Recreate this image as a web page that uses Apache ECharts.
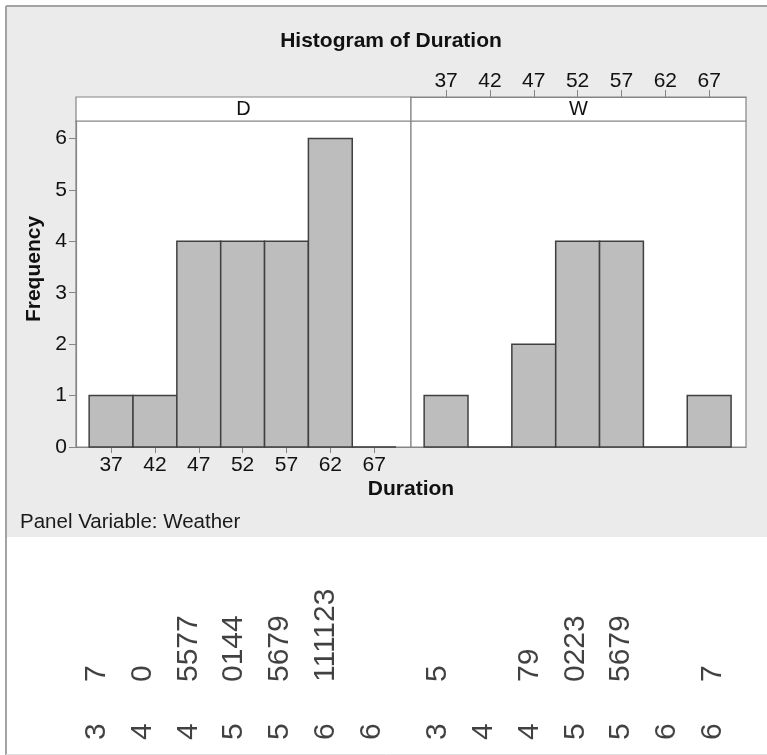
<!DOCTYPE html>
<html>
<head>
<meta charset="utf-8">
<script src="https://cdn.jsdelivr.net/npm/echarts@6/dist/echarts.min.js"></script>
<style>
  html, body { margin: 0; padding: 0; background: #ffffff; }
  #chart { width: 767px; height: 755px; }
</style>
</head>
<body>
<div id="chart"></div>
<script>
// ---- data ----
const binCenters = [37, 42, 47, 52, 57, 62, 67];
const binWidth = 5;
const countsD = [1, 1, 4, 4, 4, 6, 0];
const countsW = [1, 0, 2, 4, 4, 0, 1];
const tickValues = [37, 42, 47, 52, 57, 62, 67];
const freqTicks = [0, 1, 2, 3, 4, 5, 6];
const stemsD = ['3', '4', '4', '5', '5', '6', '6'];
const leavesD = ['7', '0', '5577', '0144', '5679', '111123', ''];
const stemsW = ['3', '4', '4', '5', '5', '6', '6'];
const leavesW = ['5', '', '79', '0223', '5679', '', '7'];
const panels = ['D', 'W'];

const FONT = "'Liberation Sans', Arial, Helvetica, sans-serif";
const X_MIN = 33, X_MAX = 71.2, Y_MAX = 6.34;
const FRAME = '#858585';
const TXT = '#111111';

const chart = echarts.init(document.getElementById('chart'), null, { renderer: 'canvas' });

function histItem(params, api) {
  const c = api.value(0), n = api.value(1);
  const p0 = api.coord([c - binWidth / 2, n]);
  const p1 = api.coord([c + binWidth / 2, 0]);
  return {
    type: 'rect',
    shape: { x: p0[0], y: p0[1], width: p1[0] - p0[0], height: p1[1] - p0[1] },
    style: { fill: '#bdbdbd', stroke: '#404040', lineWidth: 1.5 }
  };
}

const leafLabel = (size) => ({
  show: true, position: 'inside', rotate: 90, align: 'left', verticalAlign: 'middle',
  fontFamily: FONT, fontSize: size, color: '#111',
  formatter: p => p.data[2]
});

const option = {
  animation: false,
  grid: [
    { left: 76, top: 121, width: 335, height: 326, show: true, backgroundColor: '#fff', borderColor: FRAME, borderWidth: 1.2 },
    { left: 411, top: 121, width: 335, height: 326, show: true, backgroundColor: '#fff', borderColor: FRAME, borderWidth: 1.2 },
    { left: 76, top: 97, width: 335, height: 24, show: true, backgroundColor: '#fff', borderColor: FRAME, borderWidth: 1.2 },
    { left: 411, top: 97, width: 335, height: 24, show: true, backgroundColor: '#fff', borderColor: FRAME, borderWidth: 1.2 },
    { left: 73.8, top: 682, width: 320.6, height: 58, show: false },
    { left: 415.1, top: 682, width: 320.6, height: 58, show: false }
  ],
  xAxis: [
    { gridIndex: 0, type: 'value', min: X_MIN, max: X_MAX,
      axisLine: { show: true, onZero: false, lineStyle: { color: FRAME, width: 1.2 } },
      axisTick: { show: true, customValues: tickValues, length: 6, lineStyle: { color: FRAME } },
      axisLabel: { show: true, customValues: tickValues, fontFamily: FONT, fontSize: 21, color: TXT, margin: 8 },
      splitLine: { show: false } },
    { gridIndex: 1, type: 'value', min: X_MIN, max: X_MAX,
      axisLine: { show: true, onZero: false, lineStyle: { color: FRAME, width: 1.2 } },
      axisTick: { show: false }, axisLabel: { show: false }, splitLine: { show: false } },
    { gridIndex: 2, type: 'value', min: X_MIN, max: X_MAX, show: false },
    { gridIndex: 3, type: 'value', min: X_MIN, max: X_MAX, position: 'top',
      axisLine: { show: true, onZero: false, lineStyle: { color: FRAME, width: 1.2 } },
      axisTick: { show: true, inside: false, customValues: tickValues, length: 7, lineStyle: { color: FRAME } },
      axisLabel: { show: true, customValues: tickValues, fontFamily: FONT, fontSize: 21, color: TXT, margin: 5 },
      splitLine: { show: false } },
    { gridIndex: 4, type: 'category', data: stemsD, show: false },
    { gridIndex: 5, type: 'category', data: stemsW, show: false }
  ],
  yAxis: [
    { gridIndex: 0, type: 'value', min: 0, max: Y_MAX,
      axisLine: { show: true, onZero: false, lineStyle: { color: FRAME, width: 1.2 } },
      axisTick: { show: true, customValues: freqTicks, length: 7, lineStyle: { color: FRAME } },
      axisLabel: { show: true, customValues: freqTicks, fontFamily: FONT, fontSize: 21, color: TXT, margin: 9 },
      splitLine: { show: false } },
    { gridIndex: 1, type: 'value', min: 0, max: Y_MAX, show: false, splitLine: { show: false } },
    { gridIndex: 2, type: 'value', min: 0, max: 1, show: false },
    { gridIndex: 3, type: 'value', min: 0, max: 1, show: false },
    { gridIndex: 4, type: 'value', min: 0, max: 1, show: false },
    { gridIndex: 5, type: 'value', min: 0, max: 1, show: false }
  ],
  series: [
    { type: 'custom', name: panels[0], xAxisIndex: 0, yAxisIndex: 0, renderItem: histItem,
      data: binCenters.map((c, i) => [c, countsD[i]]), z: 3 },
    { type: 'custom', name: panels[1], xAxisIndex: 1, yAxisIndex: 1, renderItem: histItem,
      data: binCenters.map((c, i) => [c, countsW[i]]), z: 3 },
    { type: 'scatter', xAxisIndex: 4, yAxisIndex: 4, symbolSize: 0, itemStyle: { color: 'transparent' },
      label: leafLabel(30), data: leavesD.map((l, i) => [i, 1, l]) },
    { type: 'scatter', xAxisIndex: 4, yAxisIndex: 4, symbolSize: 0, itemStyle: { color: 'transparent' },
      label: leafLabel(30), data: stemsD.map((s, i) => [i, 0, s]) },
    { type: 'scatter', xAxisIndex: 5, yAxisIndex: 5, symbolSize: 0, itemStyle: { color: 'transparent' },
      label: leafLabel(30), data: leavesW.map((l, i) => [i, 1, l]) },
    { type: 'scatter', xAxisIndex: 5, yAxisIndex: 5, symbolSize: 0, itemStyle: { color: 'transparent' },
      label: leafLabel(30), data: stemsW.map((s, i) => [i, 0, s]) }
  ],
  graphic: [
    { type: 'rect', z: -10, silent: true, shape: { x: 7, y: 7, width: 760, height: 530 }, style: { fill: '#ebebeb' } },
    { type: 'line', z: -9, silent: true, shape: { x1: 6, y1: 6, x2: 767, y2: 6 }, style: { stroke: '#a3a3a3', lineWidth: 2 } },
    { type: 'line', z: -9, silent: true, shape: { x1: 6, y1: 6, x2: 6, y2: 755 }, style: { stroke: '#a3a3a3', lineWidth: 2 } },
    { type: 'line', z: -9, silent: true, shape: { x1: 6, y1: 754.5, x2: 767, y2: 754.5 }, style: { stroke: '#e0e0e0', lineWidth: 1 } },
    { type: 'text', x: 391, y: 41, style: { text: 'Histogram of Duration', font: 'bold 21px ' + FONT, fill: TXT, align: 'center', verticalAlign: 'middle' } },
    { type: 'text', x: 243.5, y: 109, z: 5, style: { text: panels[0], font: '20px ' + FONT, fill: TXT, align: 'center', verticalAlign: 'middle' } },
    { type: 'text', x: 578.5, y: 109, z: 5, style: { text: panels[1], font: '20px ' + FONT, fill: TXT, align: 'center', verticalAlign: 'middle' } },
    { type: 'text', x: 34, y: 269, rotation: Math.PI / 2, style: { text: 'Frequency', font: 'bold 21px ' + FONT, fill: TXT, align: 'center', verticalAlign: 'middle' } },
    { type: 'text', x: 411, y: 489, style: { text: 'Duration', font: 'bold 21px ' + FONT, fill: TXT, align: 'center', verticalAlign: 'middle' } },
    { type: 'text', x: 20, y: 522, style: { text: 'Panel Variable: Weather', font: '20.5px ' + FONT, fill: '#1a1a1a', align: 'left', verticalAlign: 'middle' } }
  ]
};

chart.setOption(option);
</script>
</body>
</html>
